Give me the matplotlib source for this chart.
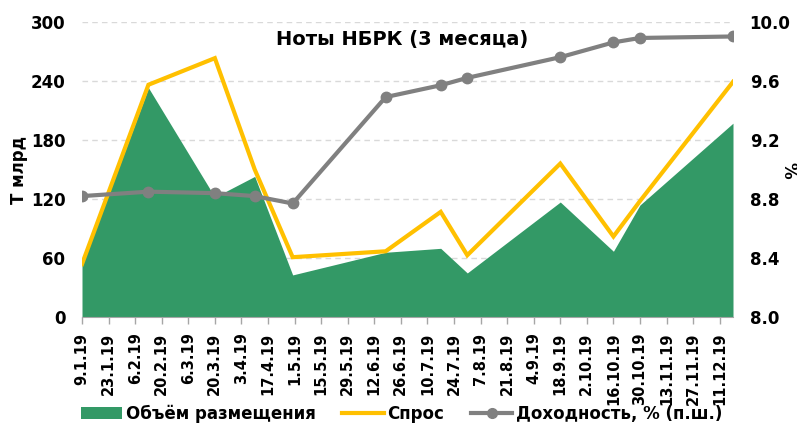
import matplotlib
matplotlib.use("Agg")
import matplotlib.pyplot as plt
from matplotlib.patches import Patch
from matplotlib.lines import Line2D
import pandas as pd
import numpy as np

dates = ["2019-01-09", "2019-02-13", "2019-03-20", "2019-04-10", "2019-04-30",
         "2019-06-18", "2019-07-17", "2019-07-31", "2019-09-18", "2019-10-16",
         "2019-10-30", "2019-12-18"]
volume = [53, 233, 122, 143, 43, 66, 70, 45, 117, 67, 114, 197]
demand = [54, 236, 263, 150, 61, 67, 107, 63, 156, 82, 118, 239]
yield_pct = [8.82, 8.85, 8.84, 8.82, 8.77, 9.49, 9.57, 9.62, 9.76, 9.86, 9.89, 9.90]

tick_start = "2019-01-09"
tick_end = "2019-12-11"
x_end = "2019-12-18"

title = "Ноты НБРК (3 месяца)"
left_label = "Т млрд"
right_label = "%"
legend_labels = ["Объём размещения", "Спрос", "Доходность, % (п.ш.)"]

GREEN = "#339966"
YELLOW = "#FFC000"
GRAY = "#808080"

plt.rcParams['font.family'] = ['DejaVu Sans']
plt.rcParams['font.weight'] = 'bold'

x = pd.to_datetime(dates)
ticks = pd.date_range(tick_start, tick_end, freq="14D")

fig = plt.figure(figsize=(7.97, 4.23), dpi=100)
ax = fig.add_axes([82/797, 1 - 317.3/423, (733-82)/797, (317.3-21.7)/423])

ax.fill_between(x, volume, 0, color=GREEN, linewidth=0, zorder=2)
ax.plot(x, demand, color=YELLOW, linewidth=3, zorder=3, solid_joinstyle='miter')

ax.set_xlim(x[0], pd.Timestamp(x_end))
ax.set_ylim(0, 300)
ax.set_yticks(np.arange(0, 301, 60))
ax.grid(axis='y', color='#D9D9D9', linestyle=(0, (4, 3)), linewidth=1)
ax.set_axisbelow(True)

ax.set_xticks(ticks)
ax.set_xticklabels([f"{d.day}.{d.month}.{d.strftime('%y')}" for d in ticks],
                   rotation=90, fontsize=10.5, fontweight='bold')
ax.tick_params(axis='x', length=5, width=1, color='#A6A6A6', pad=6)
ax.tick_params(axis='y', length=0, pad=12, labelsize=12)
for lbl in ax.get_yticklabels():
    lbl.set_fontweight('bold')

for s in ['top', 'right', 'left']:
    ax.spines[s].set_visible(False)
ax.spines['bottom'].set_color('#A6A6A6')
ax.spines['bottom'].set_zorder(5)

ax.set_ylabel(left_label, fontsize=12, fontweight='bold', labelpad=2)

ax2 = ax.twinx()
ax2.plot(x, yield_pct, color=GRAY, linewidth=3, marker='o', markersize=7.5, zorder=4)
ax2.set_ylim(8.0, 10.0)
ax2.set_yticks(np.arange(8.0, 10.01, 0.4))
ax2.set_yticklabels([f"{v:.1f}" for v in np.arange(8.0, 10.01, 0.4)])
ax2.tick_params(axis='y', length=0, pad=12, labelsize=12)
for lbl in ax2.get_yticklabels():
    lbl.set_fontweight('bold')
for s in ['top', 'right', 'left', 'bottom']:
    ax2.spines[s].set_visible(False)

fig.text(788/797, 1 - 170/423, right_label, ha='center', va='center', rotation=270,
         fontsize=12, fontweight='bold')

fig.text(402/797, 1 - 40/423, title, ha='center', va='center', fontsize=14, fontweight='bold')

handles = [Patch(facecolor=GREEN, edgecolor='none'),
           Line2D([], [], color=YELLOW, linewidth=3),
           Line2D([], [], color=GRAY, linewidth=3, marker='o', markersize=7)]
fig.legend(handles, legend_labels, loc='center left', bbox_to_anchor=(74/797, 1 - 414/423),
           ncol=3, frameon=False, prop={'weight': 'bold', 'size': 12},
           handlelength=2.5, handletextpad=0.2, columnspacing=1.6, borderaxespad=0)

fig.savefig("out.png", dpi=100)
